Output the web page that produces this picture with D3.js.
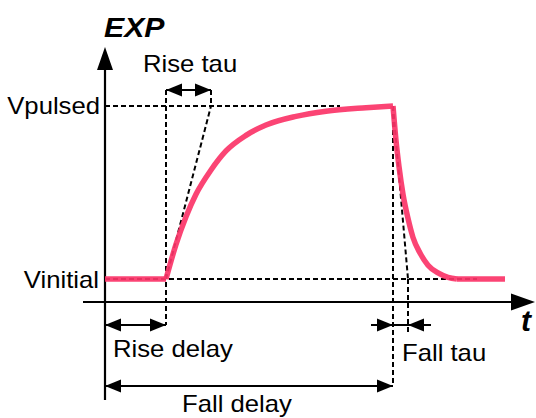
<!DOCTYPE html>
<html>
<head>
<meta charset="utf-8">
<script src="https://cdn.jsdelivr.net/npm/d3@7"></script>
<style>
  body { margin: 0; background: #fff; }
  svg { display: block; }
  text { font-family: "Liberation Sans", Arial, sans-serif; fill: #000; }
</style>
</head>
<body>
<script>
// timing parameters (time units along t, 0 = y axis)
const riseDelay = 61
const riseTau = 45
const fallDelay = 288
const fallTau = 15
const tEnd = 400

// waveform (V: 0 = Vinitial, 1 = Vpulsed)
const flatT = [0, 61]
const flatV = [0, 0]
const riseT = [61, 71, 81, 91, 106, 121, 141, 161, 191, 221, 261, 288]
const riseV = [0, 0.20, 0.36, 0.49, 0.63, 0.74, 0.83, 0.89, 0.94, 0.97, 0.99, 1.0]
const fallT = [288, 291, 294, 298, 303, 308, 315, 323, 333, 343, 352]
const fallV = [1.0, 0.80, 0.65, 0.49, 0.35, 0.24, 0.15, 0.08, 0.035, 0.01, 0]
const tailT = [352, 400]
const tailV = [0, 0]

const levelLabels = ['Vinitial', 'Vpulsed']
const title = 'EXP'
const axisLabel = 't'

const width = 536
const height = 418

const d3 = window.d3

const x = d3.scaleLinear().domain([0, tEnd]).range([105, 505])
const y = d3.scaleLinear().domain([0, 1]).range([279, 106])

const svg = d3.select('body').append('svg')
  .attr('width', width)
  .attr('height', height)

const zip = (ts, vs) => ts.map((t, i) => ({ t: t, v: vs[i] }))

function dashed (x1, y1, x2, y2) {
  svg.append('line')
    .attr('x1', x1).attr('y1', y1).attr('x2', x2).attr('y2', y2)
    .attr('stroke', '#000')
    .attr('stroke-width', 2)
    .attr('stroke-dasharray', '5,3')
}

function solid (x1, y1, x2, y2, w) {
  svg.append('line')
    .attr('x1', x1).attr('y1', y1).attr('x2', x2).attr('y2', y2)
    .attr('stroke', '#000')
    .attr('stroke-width', w)
}

// filled triangle head, dir: 'l','r','u'
function head (tx, ty, dir, len, half) {
  let pts
  if (dir === 'r') pts = [[tx, ty], [tx - len, ty - half], [tx - len, ty + half]]
  if (dir === 'l') pts = [[tx, ty], [tx + len, ty - half], [tx + len, ty + half]]
  if (dir === 'u') pts = [[tx, ty], [tx - half, ty + len], [tx + half, ty + len]]
  svg.append('polygon')
    .attr('points', pts.map((p) => p.join(',')).join(' '))
    .attr('fill', '#000')
}

function label (txt, px, py, anchor) {
  svg.append('text')
    .attr('transform', 'translate(' + px + ',' + py + ') scale(1.07,1)')
    .attr('text-anchor', anchor || 'start')
    .style('font-size', '24px')
    .text(txt)
}

// guide lines
dashed(x(0), y(1), x(235), y(1))
dashed(x(0), y(0), x(372), y(0))
dashed(x(riseDelay), 90, x(riseDelay), 325)
dashed(x(riseDelay + riseTau), 90, x(riseDelay + riseTau), y(1))
dashed(x(riseDelay), y(0), x(riseDelay + riseTau), y(1))
dashed(x(fallDelay), y(1), x(fallDelay), 386)
dashed(x(fallDelay), y(1), x(fallDelay + fallTau), y(0))
dashed(x(fallDelay + fallTau), y(0), x(fallDelay + fallTau), 332)

// axes
solid(x(0), 68, x(0), 400, 2.2)
head(x(0), 47, 'u', 23, 8)
solid(83, 302, 513, 302, 2.2)
head(535, 302, 'r', 24, 8.5)

// waveform
const line = d3.line()
  .x((d) => x(d.t))
  .y((d) => y(d.v))
  .curve(d3.curveMonotoneX)

const segments = [zip(flatT, flatV), zip(riseT, riseV), zip(fallT, fallV), zip(tailT, tailV)]
segments.forEach((seg) => {
  svg.append('path')
    .datum(seg)
    .attr('d', line)
    .attr('fill', 'none')
    .attr('stroke', '#fb3468')
    .attr('stroke-opacity', 0.92)
    .attr('stroke-width', 5.5)
    .attr('stroke-linejoin', 'round')
})

// dimension arrows
const aLen = 16
const aHalf = 6.5
solid(x(riseDelay), 90, x(riseDelay + riseTau), 90, 2)
head(x(riseDelay), 90, 'l', aLen, aHalf)
head(x(riseDelay + riseTau), 90, 'r', aLen, aHalf)

solid(x(0), 325, x(riseDelay), 325, 2)
head(x(0), 325, 'l', aLen, aHalf)
head(x(riseDelay), 325, 'r', aLen, aHalf)

solid(x(0), 386, x(fallDelay), 386, 2)
head(x(0), 386, 'l', aLen, aHalf)
head(x(fallDelay), 386, 'r', aLen, aHalf)

solid(371, 325, 431, 325, 2)
head(x(fallDelay), 325, 'r', aLen, aHalf)
head(x(fallDelay + fallTau), 325, 'l', aLen, aHalf)

// texts
svg.append('text')
  .attr('transform', 'translate(104,37) scale(1.08,1)')
  .style('font-size', '28px')
  .style('font-weight', 'bold')
  .style('font-style', 'italic')
  .text(title)

svg.append('text')
  .attr('x', 521).attr('y', 331)
  .style('font-size', '30px')
  .style('font-weight', 'bold')
  .style('font-style', 'italic')
  .text(axisLabel)

label(levelLabels[1], 100, 114, 'end')
label(levelLabels[0], 99, 288, 'end')
label('Rise tau', 143, 72)
label('Rise delay', 113, 357)
label('Fall delay', 182, 412)
label('Fall tau', 402, 361)
</script>
</body>
</html>
